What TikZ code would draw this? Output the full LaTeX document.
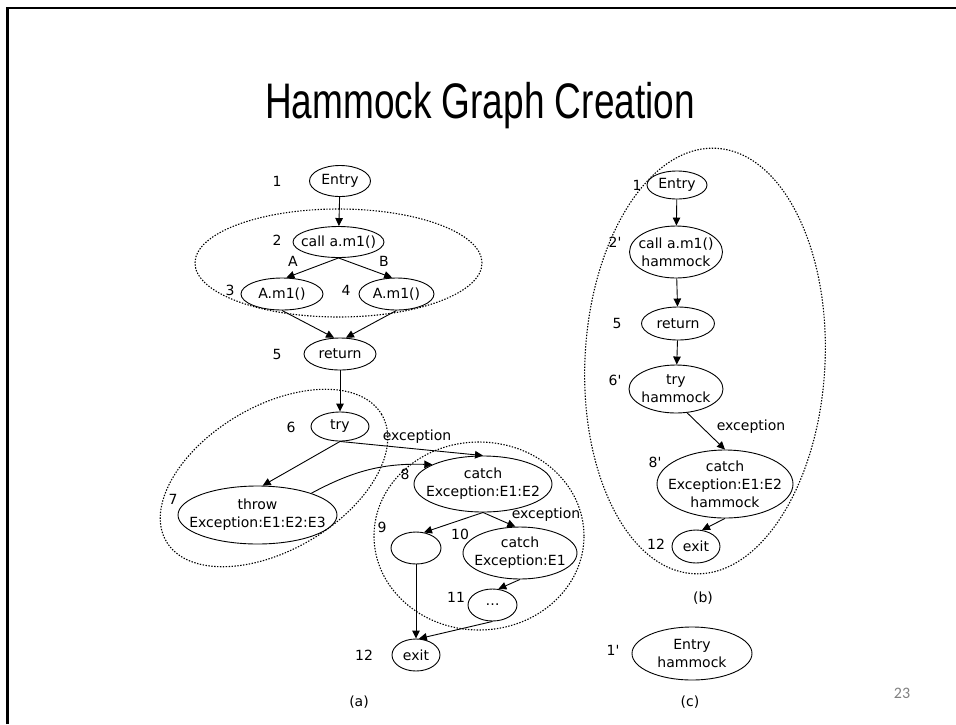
\documentclass[tikz,border=0pt]{standalone}
\usepackage{fontspec}
\setmainfont{DejaVu Sans}
\newfontfamily\titlefont{Liberation Sans}
\newfontfamily\pagefont{Carlito}
\usetikzlibrary{arrows.meta,positioning,shapes.geometric}

\begin{document}
\begin{tikzpicture}[
      x=1pt, y=-1pt,
      font=\fontsize{14}{18}\selectfont,
      ev/.style 2 args={ellipse, draw, line width=0.9pt, inner sep=0pt, minimum width=#1, minimum height=#2},
      every label/.style={align=center, inner sep=0pt},
      arr/.style={-{Triangle[length=8pt, width=7.5pt]}, line width=0.9pt},
      hull/.style={line width=1.1pt, dash pattern=on 1.4pt off 1.5pt},
      num/.style={inner sep=1pt},
    ]
    \useasboundingbox (0,0) rectangle (956,724);
    % slide frame and title
    \draw[line width=2.2pt] (7.5,724) -- (7.5,8) -- (956,8);
    \node[anchor=base, font=\titlefont\fontsize{37}{40}\selectfont] (title) at (480,118) {\scalebox{1}[1.35]{Hammock Graph Creation}};

    % (a) original graph
    \node[ev={61}{31}, label=center:Entry] (e1) at (340,181) {};
    \node[ev={91}{31}, label={center:{call a.m1()}}] (c2) at (338.5,242) {};
    \node[ev={82}{32}, label={center:{A.m1()}}] (a3) at (282,294) {};
    \node[ev={75}{32}, label={center:{A.m1()}}] (a4) at (396.5,294) {};
    \node[ev={72}{32}, label=center:return] (ret) at (340,354) {};
    \node[ev={58}{29}, label=center:try] (try) at (340,426.5) {};
    \node[ev={159}{58}, label={center:{throw\\Exception:E1:E2:E3}}] (thr) at (257.5,515) {};
    \node[ev={138}{56}, label={center:{catch\\Exception:E1:E2}}] (c8) at (483,484) {};
    \node[ev={50}{32}] (n9) at (416,548) {};
    \node[ev={114}{52}, label={center:{catch\\Exception:E1}}] (c10) at (520,553) {};
    \node[ev={49}{32}, label={center:{…}}] (n11) at (492.5,605) {};
    \node[ev={48}{32}, label=center:exit] (ex) at (416,655) {};

    \node[num] (l1) at (277,181) {1};
    \node[num] (l2) at (277,240) {2};
    \node[num] (l3) at (230,290) {3};
    \node[num] (l4) at (346,290) {4};
    \node[num] (l5) at (277,354) {5};
    \node[num] (l6) at (291,427) {6};
    \node[num] (l7) at (173,499) {7};
    \node[num] (l8) at (405,474) {8};
    \node[num] (l9) at (382,527) {9};
    \node[num] (l10) at (460,534) {10};
    \node[num] (l11) at (456,597) {11};
    \node[num] (l12) at (364,655) {12};
    \node[num] (la) at (293,261) {A};
    \node[num] (lb) at (384,261) {B};
    \node[num] (lx1) at (417,437) {exception};
    \node[num] (lx2) at (546,515) {exception};

    \draw[arr] (e1) -- (c2);
    \draw[arr] (c2.south) -- (a3.75);
    \draw[arr] (c2.south) -- (a4.105);
    \draw[arr] (a3.south) -- (ret.110);
    \draw[arr] (a4.south) -- (ret.70);
    \draw[arr] (ret) -- (try);
    \draw[arr] (try.south) -- (thr.80);
    \draw[arr] (try.south) -- (c8.north);
    \draw[arr] (thr.22) to[bend left=15] (c8.159);
    \draw[arr] (c8.south) -- (n9.63);
    \draw[arr] (c8.south) -- (c10.100);
    \draw[arr] (c10.south) -- (n11.70);
    \draw[arr] (n9) -- (ex);
    \draw[arr] (n11.south) -- (ex.80);

    \draw[hull] (338.5,263) ellipse [x radius=143.5pt, y radius=54pt];
    \draw[hull, rotate around={30.5:(274,478)}] (274,478) ellipse [x radius=125pt, y radius=72pt];
    \draw[hull] (479,536) ellipse [x radius=105pt, y radius=94pt];

    % (b) hammock graph
    \node[ev={60}{28}, label=center:Entry] (b1) at (677,185) {};
    \node[ev={93}{52}, label={center:{call a.m1()\\hammock}}] (b2) at (676,252) {};
    \node[ev={73}{33}, label=center:return] (b5) at (678,323.5) {};
    \node[ev={94}{48}, label={center:{try\\hammock}}] (b6) at (676,389) {};
    \node[ev={136}{68}, label={center:{catch\\Exception:E1:E2\\hammock}}] (b8) at (725,484) {};
    \node[ev={48}{33}, label=center:exit] (b12) at (696,546.5) {};

    \node[num] (m1) at (637,185) {1};
    \node[num] (m2) at (615,242) {2\textquotesingle};
    \node[num] (m5) at (617,323) {5};
    \node[num] (m6) at (615,380) {6\textquotesingle};
    \node[num] (m8) at (655,462) {8\textquotesingle};
    \node[num] (m12) at (656,544) {12};
    \node[num] (mx) at (751,427) {exception};

    \draw[arr] (b1) -- (b2);
    \draw[arr] (b2) -- (b5);
    \draw[arr] (b5) -- (b6);
    \draw[arr] (b6.-65) -- (b8.north);
    \draw[arr] (b8.south) -- (b12.70);

    \draw[hull, rotate around={-3:(705,361)}] (705,361) ellipse [x radius=120pt, y radius=213pt];

    % (c) entry hammock
    \node[ev={120}{53}, label={center:{Entry\\hammock}}] (c1) at (692,653.5) {};
    \node[num] (k1) at (613,650) {1\textquotesingle};

    \node[num] (capa) at (359,702) {(a)};
    \node[num] (capb) at (703,598) {(b)};
    \node[num] (capc) at (690,702) {(c)};
    \node[font=\pagefont\fontsize{16}{18}\selectfont, text=black!50] (page) at (902,693) {23};
  \end{tikzpicture}
\end{document}
